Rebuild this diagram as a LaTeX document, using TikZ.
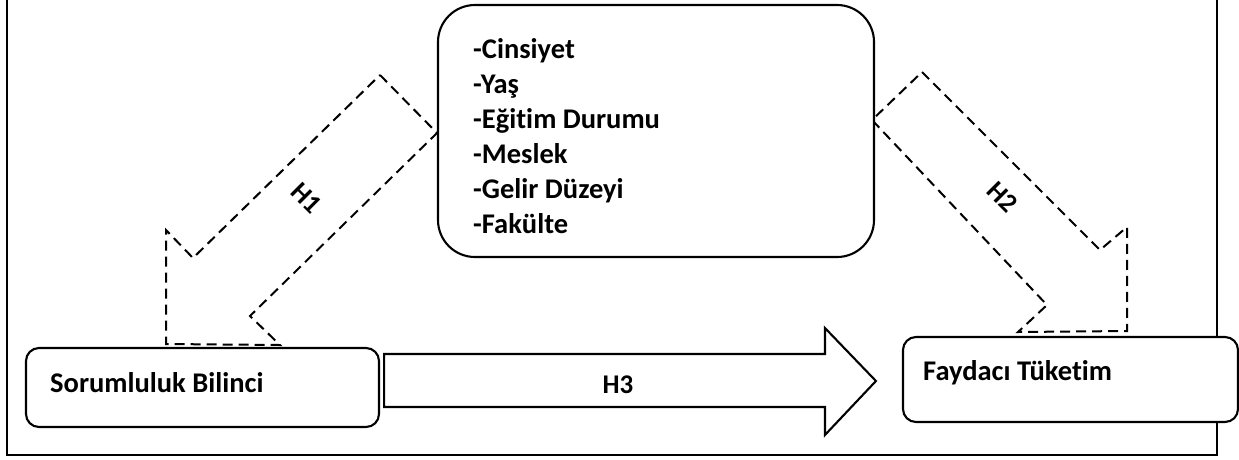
\documentclass[tikz,border=0pt]{standalone}
\usepackage{fontspec}
\setmainfont{Carlito}[Ligatures=NoCommon]
\usetikzlibrary{calc}
\begin{document}
\begin{tikzpicture}[x=1pt,y=-1pt,
  box/.style={draw, line width=2.1pt, fill=white, rounded corners=13pt, inner sep=0pt},
  lbl/.style={font=\bfseries\fontsize{28.5}{35}\selectfont, inner sep=0pt},
  hlbl/.style={font=\bfseries\fontsize{27}{32}\selectfont, inner sep=0pt},
  dasharrow/.style={draw, line width=2pt, dash pattern=on 10pt off 6pt, line join=miter},
  blockarrow/.style={draw, line width=2.1pt, line join=miter}]
\useasboundingbox (0,0) rectangle (1239,459);
% outer frame
\draw[line width=2.2pt] (7,-3) -- (7,455) -- (1217,455) -- (1217,-3);
% dashed arrows H1 and H2
\draw[dasharrow] (380,75) -- (437,133) -- (250,316) -- (280,345) -- (166,344) -- (166,230) -- (193,258) -- cycle;
\draw[dasharrow] (922,72) -- (1100,250) -- (1127,227) -- (1127,331) -- (1018,332) -- (1047,305) -- (872,120) -- cycle;
% boxes
\node[box, minimum width=436pt, minimum height=252pt, rounded corners=37pt] (dem) at (656,131) {};
\node[box, minimum width=353pt, minimum height=79pt] (sb) at (202.5,387.5) {};
\node[box, minimum width=335pt, minimum height=85pt] (ft) at (1070.5,379.5) {};
% block arrow H3
\coordinate (h3a) at ($(sb.east)+(4,-6.5)$);
\coordinate (h3b) at ($(ft.west)+(-26,1.5)$);
\draw[blockarrow] ($(h3a)+(0,-27)$) -- ($(h3b)+(-51,-27)$) -- ($(h3b)+(-51,-53)$) -- (h3b)
  -- ($(h3b)+(-51,54)$) -- ($(h3b)+(-51,26)$) -- ($(h3a)+(0,26)$) -- cycle;
% texts
\node[lbl, anchor=north west, align=left] (demt) at (473,36) {\rule{0pt}{22pt}-Cinsiyet\\-Yaş\\-Eğitim Durumu\\-Meslek\\-Gelir Düzeyi\\-Fakülte};
\node[lbl, anchor=base west] (sbt) at (50,392) {Sorumluluk Bilinci};
\node[lbl, anchor=base west] (ftt) at (923,380) {Faydacı Tüketim};
\node[hlbl, anchor=base] (h3) at (618,393) {H3};
\node[hlbl, rotate=-45] (h1) at (307,198) {H1};
\node[hlbl, rotate=-45] (h2) at (1003,197) {H2};
\end{tikzpicture}
\end{document}
